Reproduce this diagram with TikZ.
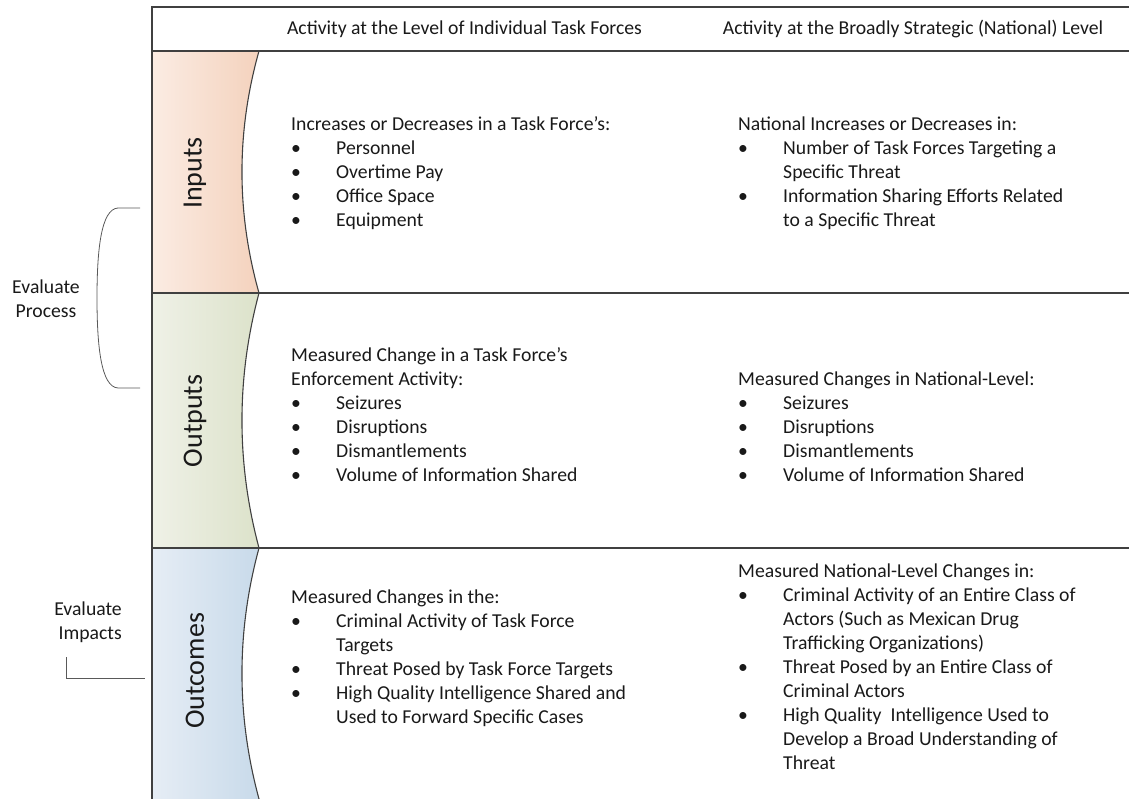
\documentclass[tikz,border=0pt]{standalone}
\usepackage{fontspec}
\setmainfont{Carlito}
\definecolor{inL}{HTML}{FBECE3}
\definecolor{inR}{HTML}{F4D2BD}
\definecolor{outL}{HTML}{EFF1E7}
\definecolor{outR}{HTML}{DCE2CA}
\definecolor{ocL}{HTML}{E6EDF5}
\definecolor{ocR}{HTML}{C8DAEA}
\definecolor{lin}{HTML}{404040}
\newcommand{\bitem}{\makebox[45pt][l]{•}}
\newcommand{\cont}{\hspace*{45pt}}
\begin{document}
\begin{tikzpicture}[x=1pt,y=-1pt,
  txt/.style={font=\fontsize{19.7}{24}\selectfont, inner sep=0pt, align=left, text=black!90},
  blk/.style={txt, anchor=base west},
  rowlab/.style={font=\fontsize{28}{30}\selectfont, rotate=90, inner sep=0pt, text=black!90},
  gridline/.style={draw=lin, line width=1.6pt},
  edge/.style={draw=lin, line width=1.1pt},
  bracket/.style={draw=black!65, line width=0.8pt}]
\useasboundingbox (0,0) rectangle (1129,799);

% colored bands
\shade[left color=inL, right color=inR] (152,51) -- (259,51) .. controls (236.3,131.7) and (236.3,212.3) .. (259,293) -- (152,293) -- cycle;
\shade[left color=outL, right color=outR] (152,293) -- (259,293) .. controls (236.3,378) and (236.3,463) .. (259,548) -- (152,548) -- cycle;
\shade[left color=ocL, right color=ocR] (152,548) -- (259,548) .. controls (236.3,631.7) and (236.3,715.3) .. (259,799) -- (152,799) -- cycle;

% curved edges
\draw[edge] (259,51) .. controls (236.3,131.7) and (236.3,212.3) .. (259,293);
\draw[edge] (259,293) .. controls (236.3,378) and (236.3,463) .. (259,548);
\draw[edge] (259,548) .. controls (236.3,631.7) and (236.3,715.3) .. (259,799);

% grid lines
\draw[gridline] (152,7) -- (1129,7);
\draw[gridline] (152,51) -- (1129,51);
\draw[gridline] (152,293) -- (1129,293);
\draw[gridline] (152,548) -- (1129,548);
\draw[draw=lin, line width=2.2pt] (152,6.2) -- (152,799);

% headers
\node[txt] (h1) at (464.5,29) {Activity at the Level of Individual Task Forces};
\node[txt] (h2) at (913,29) {Activity at the Broadly Strategic (National) Level};

% row labels
\node[rowlab] (linputs) at (195,173) {Inputs};
\node[rowlab] (loutputs) at (195,421) {Outputs};
\node[rowlab] (loutcomes) at (195,671) {Outcomes};

% inputs (anchored at the baseline of the last line)
\node[blk] (in1) at (291,227) {Increases or Decreases in a Task Force’s:\\
\bitem Personnel\\
\bitem Overtime Pay\\
\bitem Office Space\\
\bitem Equipment};
\node[blk] (in2) at (738,227) {National Increases or Decreases in:\\
\bitem Number of Task Forces Targeting a\\
\cont Specific Threat\\
\bitem Information Sharing Efforts Related\\
\cont to a Specific Threat};

% outputs
\node[blk] (out1) at (291,481) {Measured Change in a Task Force’s\\
Enforcement Activity:\\
\bitem Seizures\\
\bitem Disruptions\\
\bitem Dismantlements\\
\bitem Volume of Information Shared};
\node[blk] (out2) at (738,481) {Measured Changes in National-Level:\\
\bitem Seizures\\
\bitem Disruptions\\
\bitem Dismantlements\\
\bitem Volume of Information Shared};

% outcomes
\node[blk] (oc1) at (291,723) {Measured Changes in the:\\
\bitem Criminal Activity of Task Force\\
\cont Targets\\
\bitem Threat Posed by Task Force Targets\\
\bitem High Quality Intelligence Shared and\\
\cont Used to Forward Specific Cases};
\node[blk] (oc2) at (738,769) {Measured National-Level Changes in:\\
\bitem Criminal Activity of an Entire Class of\\
\cont Actors (Such as Mexican Drug\\
\cont Trafficking Organizations)\\
\bitem Threat Posed by an Entire Class of\\
\cont Criminal Actors\\
\bitem High Quality~ Intelligence Used to\\
\cont Develop a Broad Understanding of\\
\cont Threat};

% evaluate process bracket
\node[txt, align=center] (ep) at (46,298.5) {Evaluate\\Process};
\coordinate (bpt) at (140,208);
\coordinate (bpb) at (140,388);
\draw[bracket] (bpt) -- (118,208) .. controls (101,209) and (97,250) .. (97,298) .. controls (97,346) and (101,387) .. (118,388) -- (bpb);

% evaluate impacts bracket
\node[txt, align=right, anchor=east] (ei) at (122,622) {Evaluate\\Impacts};
\coordinate (bit) at (66,657);
\coordinate (bir) at (145,678);
\draw[bracket] (bit) |- (bir);
\end{tikzpicture}
\end{document}
